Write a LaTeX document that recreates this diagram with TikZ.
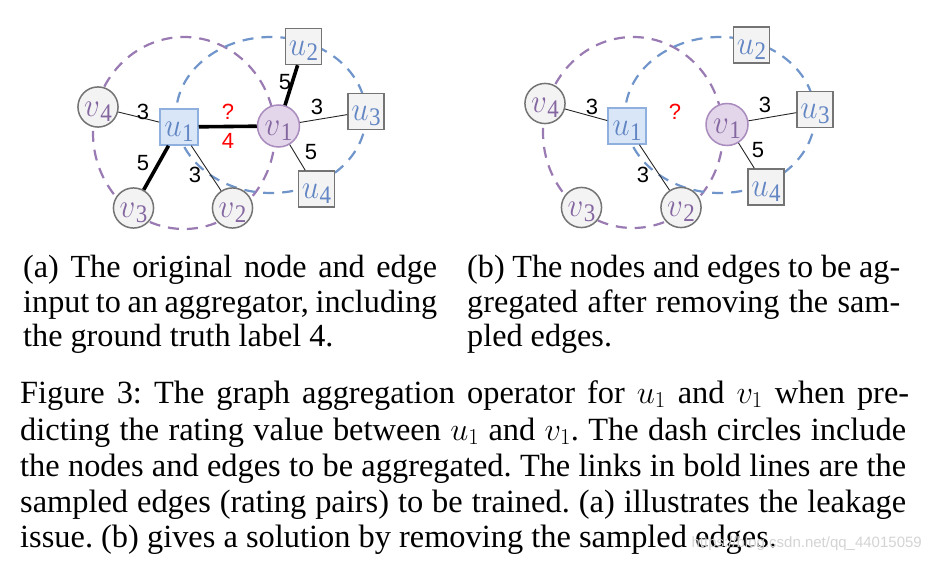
\RequirePackage{fix-cm}
\documentclass[tikz,border=0pt]{standalone}
\usepackage{fontspec}
\setmainfont{Liberation Serif}
\newfontfamily\lsans{Liberation Sans}
\definecolor{ngray}{HTML}{747474}
\definecolor{nfill}{HTML}{F3F3F3}
\definecolor{ufill}{HTML}{D9E6F8}
\definecolor{uline}{HTML}{8FB0DE}
\definecolor{vfill}{HTML}{E3D6EA}
\definecolor{vline}{HTML}{A98BBE}
\definecolor{pdashc}{HTML}{9A7AB2}
\definecolor{bdashc}{HTML}{7095CA}
\definecolor{vtext}{HTML}{8466A0}
\definecolor{utext}{HTML}{6285C3}
\definecolor{wmark}{HTML}{D4D4D4}
\newcommand{\ulab}[1]{\textcolor{utext}{\scalebox{1}[1.08]{\fontsize{31}{31}\selectfont$u$}\kern0.5pt\raisebox{-5pt}{\scalebox{1}[1.1]{\fontsize{23}{23}\selectfont #1}}}}
\newcommand{\vlab}[1]{\textcolor{vtext}{\scalebox{1}[1.08]{\fontsize{31}{31}\selectfont$v$}\kern0.5pt\raisebox{-5pt}{\scalebox{1}[1.1]{\fontsize{23}{23}\selectfont #1}}}}
\tikzset{
  lablift/.style={text height=24pt, text depth=5pt},
  vnode/.style={circle, draw=ngray, fill=nfill, line width=1.5pt, minimum size=40pt, inner sep=0pt, lablift},
  unode/.style={rectangle, draw=ngray, fill=nfill, line width=1.5pt, minimum size=36pt, inner sep=0pt, lablift},
  uone/.style={unode, draw=uline, fill=ufill, minimum width=38pt},
  vone/.style={vnode, draw=vline, fill=vfill, minimum size=42pt},
  pdash/.style={draw=pdashc, line width=2.2pt, dash pattern=on 11pt off 8pt},
  bdash/.style={draw=bdashc, line width=2.2pt, dash pattern=on 11pt off 8pt},
  thinedge/.style={draw=black!85, line width=0.9pt},
  thickedge/.style={draw=black, line width=3.6pt},
  elab/.style={font=\lsans\fontsize{22}{22}\selectfont, inner sep=0pt},
  rlab/.style={elab, text=red},
  capline/.style={anchor=base west, inner sep=0pt, font=\fontsize{32.4}{36}\selectfont\frenchspacing},
  subcap/.style={anchor=base west, inner sep=0pt, font=\fontsize{32.2}{34}\selectfont\frenchspacing}
}
\begin{document}
\begin{tikzpicture}[x=1pt,y=-1pt]
\useasboundingbox[fill=white] (0,0) rectangle (932,561);
% ---------- panel (a) ----------
\draw[pdash] (184,133) ellipse [x radius=91, y radius=96];
\draw[bdash] (271,115) ellipse [x radius=95, y radius=78];
\node[vnode] (av4) at (98,107) {\vlab{4}};
\node[uone] (au1) at (179,127) {\ulab{1}};
\node[vone] (av1) at (278.5,126) {\vlab{1}};
\node[unode] (au2) at (303.5,46.5) {\ulab{2}};
\node[unode] (au3) at (366,111.5) {\ulab{3}};
\node[unode] (au4) at (316.5,189) {\ulab{4}};
\node[vnode] (av3) at (133.5,208) {\vlab{3}};
\node[vnode] (av2) at (232.5,208) {\vlab{2}};
\draw[thinedge] (av4) -- (au1);
\draw[thickedge] (au1) -- (av1);
\draw[thickedge] (au1) -- (av3);
\draw[thinedge] (au1) -- (av2);
\draw[thickedge] (av1) -- (au2);
\draw[thinedge] (av1) -- (au3);
\draw[thinedge] (av1) -- (au4);
\node[elab] (al1) at (143,112) {3};
\node[rlab] (alq) at (228,112) {?};
\node[rlab] (al4) at (228,141) {4};
\node[elab] (al2) at (143,163) {5};
\node[elab] (al3) at (195,175) {3};
\node[elab] (al5) at (285,82) {5};
\node[elab] (al6) at (317,107) {3};
\node[elab] (al7) at (311,152) {5};
% ---------- panel (b) ----------
\draw[pdash] (633,132.5) ellipse [x radius=90, y radius=95.5];
\draw[bdash] (720,115) ellipse [x radius=95, y radius=78];
\node[vnode] (bv4) at (545,103.5) {\vlab{4}};
\node[uone] (bu1) at (627,126) {\ulab{1}};
\node[vone] (bv1) at (727,124.5) {\vlab{1}};
\node[unode] (bu2) at (751.5,45) {\ulab{2}};
\node[unode] (bu3) at (815,109.5) {\ulab{3}};
\node[unode] (bu4) at (766,187) {\ulab{4}};
\node[vnode] (bv3) at (581.5,207.5) {\vlab{3}};
\node[vnode] (bv2) at (681,207.5) {\vlab{2}};
\draw[thinedge] (bv4) -- (bu1);
\draw[thinedge] (bu1) -- (bv2);
\draw[thinedge] (bv1) -- (bu3);
\draw[thinedge] (bv1) -- (bu4);
\node[elab] (bl1) at (592,107) {3};
\node[rlab] (blq) at (675,112) {?};
\node[elab] (bl3) at (643,175) {3};
\node[elab] (bl6) at (765,105) {3};
\node[elab] (bl7) at (758,150) {5};
% ---------- sub-captions ----------
\node[subcap] (ca1) at (23,278) {\makebox[414pt][s]{(a) The original node and edge}};
\node[subcap] (ca2) at (23,313) {\makebox[414pt][s]{input to an aggregator, including}};
\node[subcap] (ca3) at (23,347) {the ground truth label 4.};
\node[subcap] (cb1) at (467,278) {\makebox[433pt][s]{(b) The nodes and edges to be ag-}};
\node[subcap] (cb2) at (467,313) {\makebox[433pt][s]{gregated after removing the sam-}};
\node[subcap] (cb3) at (467,347) {pled edges.};
% ---------- figure caption ----------
\node[capline] (f1) at (20,403) {\makebox[889pt][s]{Figure 3: The graph aggregation operator for $u_1$ and $v_1$ when pre-}};
\node[capline] (f2) at (20,440) {\makebox[886pt][s]{dicting the rating value between $u_1$ and $v_1$. The dash circles include}};
\node[capline] (f3) at (20,476) {\makebox[886pt][s]{the nodes and edges to be aggregated. The links in bold lines are the}};
\node[capline] (f4) at (20,512) {\makebox[886pt][s]{sampled edges (rating pairs) to be trained. (a) illustrates the leakage}};
\node[capline] (f5) at (20,547) {issue. (b) gives a solution by removing the sampled edges.};
\node[anchor=base east, inner sep=0pt, text=wmark, font=\lsans\fontsize{15}{15}\selectfont] (wm) at (922,547) {https://blog.csdn.net/qq\_44015059};
\end{tikzpicture}
\end{document}
